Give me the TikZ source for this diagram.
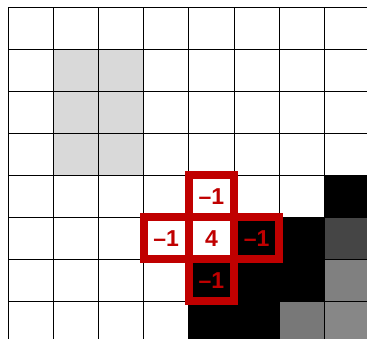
\documentclass[tikz,border=0pt]{standalone}
\usepackage{fontspec}
\setsansfont{Liberation Sans}
\usepackage{xcolor}
\usetikzlibrary{positioning}
\definecolor{kred}{HTML}{C00000}

\begin{document}
\begin{tikzpicture}[
  x=1pt, y=-1pt,
  gridline/.style={black, line width=1pt},
  cell/.style={minimum width=45.2pt, minimum height=42pt, inner sep=0pt, outer sep=0pt},
  kernel/.style={cell, draw=kred, line width=8pt, text=kred, font=\sffamily\bfseries\fontsize{23}{23}\selectfont},
  node distance=0pt,
]
\useasboundingbox (0,0) rectangle (367,339);
\clip (0,0) rectangle (367,339);
% image pixels
\foreach \c/\r/\shade in {1/1/gray!30, 2/1/gray!30, 1/2/gray!30, 2/2/gray!30, 1/3/gray!30, 2/3/gray!30,
    7/4/black, 5/5/black, 6/5/black, 7/5/black!73, 4/6/black, 5/6/black, 6/6/black, 7/6/black!50,
    4/7/black, 5/7/black, 6/7/black!53, 7/7/black!47}
  \fill[\shade] (8+45.2*\c, 7.3+42*\r) rectangle ++(45.2,42);
% grid
\foreach \i in {0,...,8}
  \draw[gridline] (8+45.2*\i, 7.3) -- (8+45.2*\i, 339);
\foreach \j in {0,...,8}
  \draw[gridline] (8, 7.3+42*\j) -- (367, 7.3+42*\j);
% laplacian kernel
\node[kernel, fill=white] (mid) at (8+45.2*4.5, 7.3+42*5.5) {4};
\node[kernel, fill=white, above=of mid] (up) {–1};
\node[kernel, fill=white, left=of mid] (lt) {–1};
\node[kernel, fill=black, right=of mid] (rt) {–1};
\node[kernel, fill=black, below=of mid] (dn) {–1};
\end{tikzpicture}
\end{document}
